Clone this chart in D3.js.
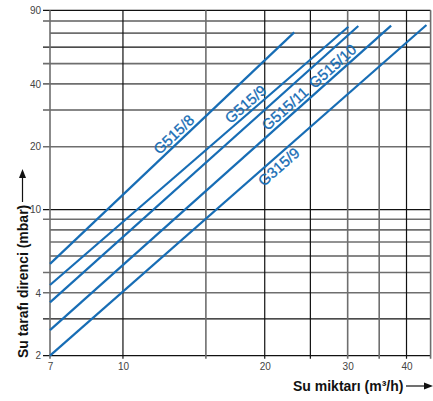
<!DOCTYPE html>
<html>
<head>
<meta charset="utf-8">
<script src="https://cdn.jsdelivr.net/npm/d3@7"></script>
<style>
  html, body { margin: 0; padding: 0; background: #fff; }
  svg { display: block; }
  text { font-family: "Liberation Sans", Arial, Helvetica, sans-serif; }
</style>
</head>
<body>
<svg id="chart" width="433" height="401"></svg>
<script>
// ---- data ----
const xGridValues = [7, 10, 15, 20, 25, 30, 35, 40, 45];
const xGridDark   = [10, 20, 25, 40];
const yGridValues = [2, 3, 4, 5, 6, 7, 8, 9, 10, 20, 30, 40, 50, 60, 70, 80, 90];
const yGridDark   = [2, 3, 6, 10, 30, 60, 80, 90];
const yGridNoTick = [6, 7, 8, 70];
const xTickLabels = [7, 10, 20, 30, 40];
const yTickLabels = [2, 4, 10, 20, 40, 90];

// curves (flow m3/h -> pressure drop mbar), straight in log-log
const lineFlowStart = [7, 7, 7, 7, 7];
const lineFlowEnd   = [23.1, 30.1, 31.6, 37.1, 44.1];
const lineDropStart = [5.5, 4.36, 3.6, 2.65, 2.0];
const lineDropEnd   = [70.6, 75.1, 75.7, 76.0, 76.5];

// curve labels: text, index of the curve they sit along, flow where they start, side of the curve
const labelTexts = ["G515/8", "G515/9", "G515/11", "G515/10", "G315/9"];
const labelCurve = [0, 1, 3, 3, 4];
const labelFlow  = [12.1, 17.1, 20.5, 25.8, 19.0];
const labelSide  = ["above", "above", "above", "above", "below"];

const xTitle = "Su miktarı (m³/h)";
const yTitle = "Su tarafı direnci (mbar)";

// ---- drawing ----
const svg = d3.select("#chart");
const x = d3.scaleLog().domain([7, 45]).range([50, 430.6]);
const y = d3.scaleLog().domain([2, 90]).range([355.7, 10.3]);

const DARK = "#111", GRAY = "#6e6e6e", BLUE = "#176db5";
const LABEL_SIZE = 15;

const grid = svg.append("g");
// horizontal grid lines
grid.selectAll("line.h").data(yGridValues).join("line")
  .attr("class", "h")
  .attr("x1", d => yGridNoTick.includes(d) ? x(7) : x(7) - 7)
  .attr("x2", x(45))
  .attr("y1", d => y(d)).attr("y2", d => y(d))
  .attr("stroke", d => yGridDark.includes(d) ? DARK : GRAY)
  .attr("stroke-width", d => yGridDark.includes(d) ? 1.2 : 1.6);

// vertical grid lines
grid.selectAll("line.v").data(xGridValues).join("line")
  .attr("class", "v")
  .attr("x1", d => x(d)).attr("x2", d => x(d))
  .attr("y1", y(90))
  .attr("y2", y(2) + 3)
  .attr("stroke", d => xGridDark.includes(d) ? DARK : GRAY)
  .attr("stroke-width", d => xGridDark.includes(d) ? 1.2 : 1.6);

// axes (labels only)
const xAxis = d3.axisBottom(x).tickValues(xTickLabels).tickFormat(d3.format("d")).tickSize(0).tickPadding(7);
const gx = svg.append("g").attr("transform", `translate(0,${y(2)})`).call(xAxis);
gx.select(".domain").remove();
gx.selectAll("text").attr("font-size", 10).attr("fill", "#444")
  .style("font-family", '"Liberation Sans", Arial, sans-serif');

const yAxis = d3.axisLeft(y).tickValues(yTickLabels).tickFormat(d3.format("d")).tickSize(0).tickPadding(9);
const gy = svg.append("g").attr("transform", `translate(${x(7)},0)`).call(yAxis);
gy.select(".domain").remove();
gy.selectAll("text").attr("font-size", 10).attr("fill", "#444")
  .style("font-family", '"Liberation Sans", Arial, sans-serif');

// curves
const curves = lineFlowStart.map((f, i) => [[f, lineDropStart[i]], [lineFlowEnd[i], lineDropEnd[i]]]);
const lineGen = d3.line().x(d => x(d[0])).y(d => y(d[1]));
svg.append("g").selectAll("path").data(curves).join("path")
  .attr("d", lineGen)
  .attr("fill", "none")
  .attr("stroke", BLUE)
  .attr("stroke-width", 2.2);

// curve labels, placed along their curve
function dropAt(ci, f) {
  const n = Math.log(lineDropEnd[ci] / lineDropStart[ci]) / Math.log(lineFlowEnd[ci] / lineFlowStart[ci]);
  return lineDropStart[ci] * Math.pow(f / lineFlowStart[ci], n);
}
svg.append("g").selectAll("text").data(labelTexts).join("text")
  .attr("transform", (d, i) => {
    const ci = labelCurve[i];
    const x0 = x(lineFlowStart[ci]), y0 = y(lineDropStart[ci]);
    const x1 = x(lineFlowEnd[ci]), y1 = y(lineDropEnd[ci]);
    const a = Math.atan2(y0 - y1, x1 - x0);           // rising angle in pixels
    const px = x(labelFlow[i]), py = y(dropAt(ci, labelFlow[i]));
    const off = labelSide[i] === "above" ? 3.5 : -(3.5 + LABEL_SIZE * 0.72);
    const tx = px - off * Math.sin(a), ty = py - off * Math.cos(a);
    return `translate(${tx},${ty}) rotate(${-a * 180 / Math.PI})`;
  })
  .attr("font-size", LABEL_SIZE)
  .attr("fill", BLUE)
  .attr("stroke", BLUE)
  .attr("stroke-width", 0.3)
  .text(d => d);

// axis titles
svg.append("text")
  .attr("x", 293).attr("y", 391)
  .attr("font-size", 14).attr("font-weight", "bold").attr("fill", "#111")
  .text(xTitle);
svg.append("text")
  .attr("transform", "translate(28,358) rotate(-90)")
  .attr("font-size", 14).attr("font-weight", "bold").attr("fill", "#111")
  .text(yTitle);

// arrows
const arrows = svg.append("g").attr("fill", "#111").attr("stroke", "#111");
arrows.append("line").attr("x1", 406).attr("x2", 425).attr("y1", 386).attr("y2", 386).attr("stroke-width", 1.2);
arrows.append("path").attr("d", "M433,386 L424,382.5 L424,389.5 Z").attr("stroke", "none");
arrows.append("line").attr("x1", 22.5).attr("x2", 22.5).attr("y1", 202).attr("y2", 178).attr("stroke-width", 1.2);
arrows.append("path").attr("d", "M22.5,169 L19,178 L26,178 Z").attr("stroke", "none");
</script>
</body>
</html>
